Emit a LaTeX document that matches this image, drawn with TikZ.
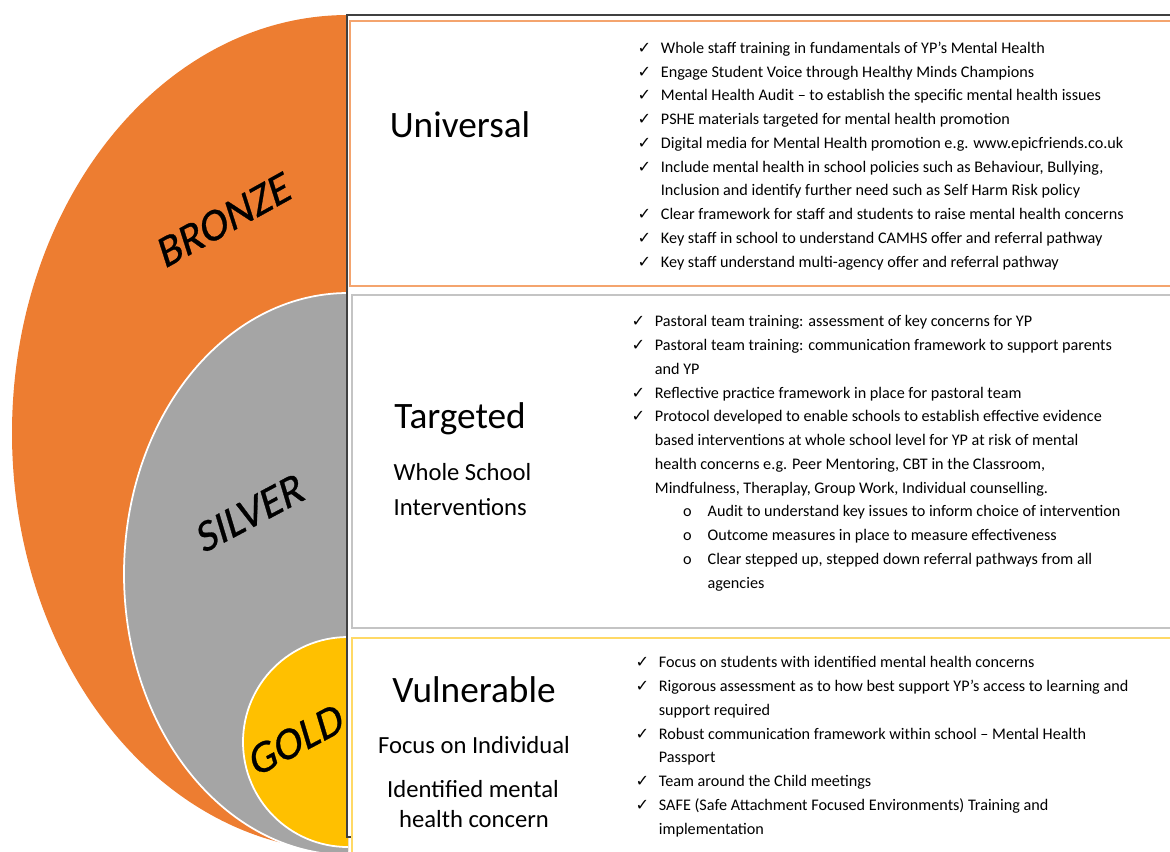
\documentclass[tikz,border=0pt]{standalone}
\usepackage{fontspec}
\setmainfont{Carlito}
\newfontfamily\symfont{DejaVu Sans}
\newfontfamily\medalfont[FakeSlant=0.2, FakeBold=0.6]{Carlito}
\definecolor{bronze}{HTML}{ED7D31}
\definecolor{silver}{HTML}{A5A5A5}
\definecolor{gold}{HTML}{FFC000}
\definecolor{bronzeline}{HTML}{F4A46E}
\definecolor{silverline}{HTML}{C4C4C4}
\definecolor{goldline}{HTML}{FFD966}
\definecolor{frameline}{HTML}{404040}
\newcommand\chk{\makebox[6.6pt][l]{\symfont ✓}}
\newcommand\cnt{\hspace*{6.6pt}}
\newcommand\subb{\hspace*{14.6pt}\makebox[7pt][l]{o}}
\newcommand\subc{\hspace*{21.6pt}}
\tikzset{
  listtext/.style={anchor=base west, inner sep=0pt, align=left, font=\fontsize{4.6}{6.75}\selectfont},
  head/.style={anchor=base, inner sep=0pt, font=\fontsize{10.6}{12}\selectfont},
  subhead/.style={anchor=base, inner sep=0pt, font=\fontsize{7}{9}\selectfont},
  medal/.style={inner sep=0pt, font=\fontsize{12.5}{14}\medalfont},
  tierbox/.style={line width=0.6pt, fill=white},
}
\begin{document}
\begin{tikzpicture}[x=0.01cm, y=-0.01cm]
\useasboundingbox (0,0) rectangle (1170,851);
\clip (0,0) rectangle (1170,851);
% medal rings
\begin{scope}
\clip (0,0) rectangle (348,851);
\fill[bronze] (348,433) ellipse [x radius=336, y radius=418];
\draw[white, line width=0.5pt, fill=silver] (348,574) ellipse [x radius=224, y radius=281];
\draw[white, line width=0.5pt, fill=gold] (348,742) circle [radius=105];
\end{scope}
\node[medal, rotate=29] (bronzelbl) at (222,221) {BRONZE};
\node[medal, rotate=28] (silverlbl) at (248,514) {SILVER};
\node[medal, rotate=28] (goldlbl) at (294,741) {GOLD};
% boxes
\draw[frameline, line width=0.6pt, fill=white] (347,15) rectangle (1180,837);
\draw[tierbox, draw=bronzeline] (350,21) rectangle (1180,286);
\draw[tierbox, draw=silverline] (352,295) rectangle (1180,628);
\draw[tierbox, draw=goldline] (352,638) rectangle (1180,870);
% universal (lists sit on their last baseline)
\node[head] (universal) at (460,137) {Universal};
\node[listtext] (unilist) at (637,267) {%
\chk Whole staff training in fundamentals of YP’s Mental Health\\
\chk Engage Student Voice through Healthy Minds Champions\\
\chk Mental Health Audit – to establish the specific mental health issues\\
\chk PSHE materials targeted for mental health promotion\\
\chk Digital media for Mental Health promotion e.g. www.epicfriends.co.uk\\
\chk Include mental health in school policies such as Behaviour, Bullying,\\
\cnt Inclusion and identify further need such as Self Harm Risk policy\\
\chk Clear framework for staff and students to raise mental health concerns\\
\chk Key staff in school to understand CAMHS offer and referral pathway\\
\chk Key staff understand multi-agency offer and referral pathway};
% targeted
\node[head] (targeted) at (460,428) {Targeted};
\node[subhead, anchor=base west] (wholeschool) at (393,480) {Whole School};
\node[subhead, anchor=base west] (interventions) at (393,515) {Interventions};
\node[listtext] (tarlist) at (631,588) {%
\chk Pastoral team training: assessment of key concerns for YP\\
\chk Pastoral team training: communication framework to support parents\\
\cnt and YP\\
\chk Reflective practice framework in place for pastoral team\\
\chk Protocol developed to enable schools to establish effective evidence\\
\cnt based interventions at whole school level for YP at risk of mental\\
\cnt health concerns e.g. Peer Mentoring, CBT in the Classroom,\\
\cnt Mindfulness, Theraplay, Group Work, Individual counselling.\\
\subb Audit to understand key issues to inform choice of intervention\\
\subb Outcome measures in place to measure effectiveness\\
\subb Clear stepped up, stepped down referral pathways from all\\
\subc agencies};
% vulnerable
\node[head] (vulnerable) at (474,702) {Vulnerable};
\node[subhead] (individual) at (474,753) {Focus on Individual};
\node[subhead] (identified) at (473,797) {Identified mental};
\node[subhead] (concern) at (474,827) {health concern};
\node[listtext] (vullist) at (635,834) {%
\chk Focus on students with identified mental health concerns\\
\chk Rigorous assessment as to how best support YP’s access to learning and\\
\cnt support required\\
\chk Robust communication framework within school – Mental Health\\
\cnt Passport\\
\chk Team around the Child meetings\\
\chk SAFE (Safe Attachment Focused Environments) Training and\\
\cnt implementation};
\end{tikzpicture}
\end{document}
